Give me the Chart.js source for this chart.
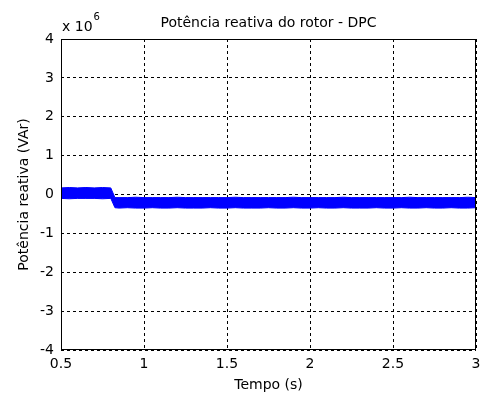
<!DOCTYPE html>
<html>
<head>
<meta charset="utf-8">
<script src="https://cdn.jsdelivr.net/npm/chart.js@4/dist/chart.umd.min.js"></script>
<style>
  body { margin: 0; background: #fff; }
  #wrap { width: 482px; height: 399px; }
</style>
</head>
<body>
<div id="wrap"><canvas id="myChart"></canvas></div>
<script>
// time axis (s)
const tempo = [0.5, 0.55, 0.6, 0.65, 0.7, 0.75, 0.8, 0.825,
  0.85, 0.9, 0.95, 1.0, 1.05, 1.1, 1.15, 1.2, 1.25, 1.3, 1.35, 1.4, 1.45, 1.5,
  1.55, 1.6, 1.65, 1.7, 1.75, 1.8, 1.85, 1.9, 1.95, 2.0, 2.05, 2.1, 2.15, 2.2,
  2.25, 2.3, 2.35, 2.4, 2.45, 2.5, 2.55, 2.6, 2.65, 2.7, 2.75, 2.8, 2.85, 2.9,
  2.95, 3.0];
// reactive power noise band, upper / lower edge (x 10^6 VAr)
const qTopo = [0.17, 0.18, 0.17, 0.18, 0.17, 0.18, 0.17, -0.08,
  -0.08, -0.08, -0.07, -0.08, -0.08, -0.08, -0.08, -0.07, -0.08, -0.08, -0.08, -0.08, -0.08, -0.08,
  -0.07, -0.08, -0.08, -0.08, -0.08, -0.08, -0.08, -0.07, -0.08, -0.08, -0.08, -0.08, -0.08, -0.07,
  -0.08, -0.08, -0.08, -0.08, -0.08, -0.08, -0.08, -0.07, -0.08, -0.08, -0.08, -0.08, -0.08, -0.08,
  -0.07, -0.08];
const qBase = [-0.10, -0.11, -0.10, -0.10, -0.10, -0.11, -0.10, -0.34,
  -0.35, -0.34, -0.35, -0.35, -0.34, -0.35, -0.35, -0.34, -0.35, -0.35, -0.35, -0.34, -0.35, -0.35,
  -0.34, -0.35, -0.35, -0.35, -0.34, -0.35, -0.35, -0.34, -0.35, -0.35, -0.34, -0.35, -0.35, -0.34,
  -0.35, -0.35, -0.35, -0.34, -0.35, -0.35, -0.34, -0.35, -0.35, -0.34, -0.35, -0.35, -0.34, -0.35,
  -0.35, -0.34];
const xTicks = [0.5, 1, 1.5, 2, 2.5, 3];
const yTicks = [-4, -3, -2, -1, 0, 1, 2, 3, 4];

const fontName = '"DejaVu Sans", sans-serif';

const frame = {
  id: "frame",
  afterDatasetsDraw(chart) {
    const a = chart.chartArea;
    const c = chart.ctx;
    c.save();
    c.strokeStyle = "#000";
    c.lineWidth = 1;
    c.setLineDash([]);
    c.strokeRect(Math.round(a.left) + 0.5, Math.round(a.top) + 0.5,
      Math.round(a.right - a.left) - 1, Math.round(a.bottom - a.top) - 1);
    c.restore();
  },
  afterDraw(chart) {
    const a = chart.chartArea;
    const c = chart.ctx;
    c.save();
    c.fillStyle = "#000";
    c.font = "14px " + fontName;
    c.textAlign = "center";
    c.textBaseline = "alphabetic";
    c.fillText("Potência reativa do rotor - DPC", (a.left + a.right) / 2, 27);
    c.textAlign = "left";
    c.fillText("x 10", a.left + 1, 31);
    const w = c.measureText("x 10").width;
    c.font = "10px " + fontName;
    c.fillText("6", a.left + 2 + w, 20);
    c.restore();
  }
};

new Chart(document.getElementById("myChart").getContext("2d"), {
  type: "line",
  data: {
    labels: tempo,
    datasets: [
      {
        data: tempo.map((t, i) => ({ x: t, y: qTopo[i] })),
        borderColor: "#0000ff",
        borderWidth: 1,
        pointRadius: 0,
        fill: false
      },
      {
        data: tempo.map((t, i) => ({ x: t, y: qBase[i] })),
        borderColor: "#0000ff",
        backgroundColor: "#0000ff",
        borderWidth: 1,
        pointRadius: 0,
        fill: "-1"
      }
    ]
  },
  options: {
    responsive: true,
    maintainAspectRatio: false,
    animation: false,
    layout: { padding: { top: 39, right: 0, left: 0, bottom: 0 } },
    plugins: {
      legend: { display: false },
      title: { display: false },
      tooltip: { enabled: false }
    },
    scales: {
      x: {
        type: "linear",
        min: 0.5,
        max: 3,
        afterFit(scale) {
          scale.height = 49;
          scale.paddingLeft = 0;
          scale.paddingRight = 6;
        },
        afterBuildTicks(scale) { scale.ticks = xTicks.map(v => ({ value: v })); },
        ticks: {
          color: "#000",
          padding: 6,
          font: { family: fontName, size: 14 },
          callback: v => String(v)
        },
        grid: { color: "#000", drawTicks: false, lineWidth: 1 },
        border: { display: false, dash: [3, 3] },
        title: {
          display: true,
          text: "Tempo (s)",
          color: "#000",
          font: { family: fontName, size: 14 },
          padding: { top: 0, bottom: 5.6 }
        }
      },
      y: {
        type: "linear",
        min: -4,
        max: 4,
        afterFit(scale) {
          scale.width = 61;
          scale.paddingTop = 0;
          scale.paddingBottom = 0;
        },
        afterBuildTicks(scale) { scale.ticks = yTicks.map(v => ({ value: v })); },
        ticks: {
          color: "#000",
          padding: 7,
          font: { family: fontName, size: 14 },
          callback: v => String(v)
        },
        grid: { color: "#000", drawTicks: false, lineWidth: 1 },
        border: { display: false, dash: [3, 3] },
        title: {
          display: true,
          text: "Potência reativa (VAr)",
          color: "#000",
          font: { family: fontName, size: 14 },
          padding: { top: 15.6, bottom: 0 }
        }
      }
    }
  },
  plugins: [frame]
});
</script>
</body>
</html>
